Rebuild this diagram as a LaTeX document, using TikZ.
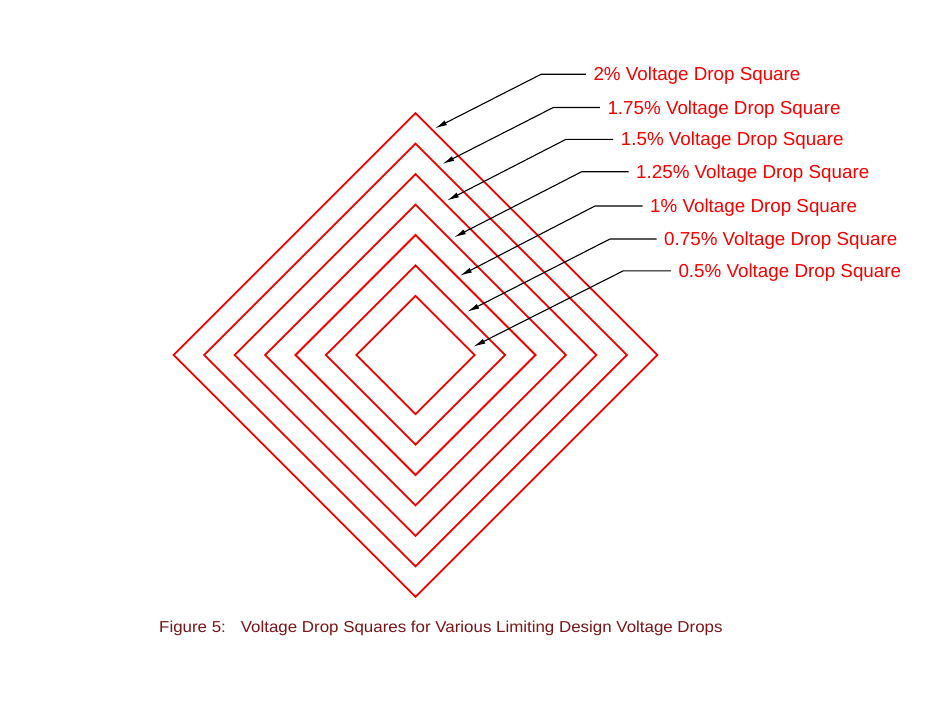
\documentclass[tikz,border=0pt]{standalone}
\usepackage{fontspec}
\setmainfont{Liberation Sans}
\usetikzlibrary{arrows.meta}
\definecolor{sqred}{RGB}{240,0,0}
\definecolor{labred}{RGB}{245,0,0}
\definecolor{capred}{RGB}{122,20,22}
\tikzset{
  sq/.style={draw=sqred, line width=1.8pt, line join=miter},
  lab/.style={anchor=west, text=labred, font=\fontsize{18.8}{20}\selectfont,
    inner xsep=7.5pt, inner ysep=0pt, text height=13.4pt, text depth=0pt},
  leader/.style={draw=black, line width=1.1pt, -{Latex[length=12pt,width=5.2pt]}},
  captext/.style={anchor=west, text=capred, inner sep=0pt,
    font=\fontsize{15.8}{17}\selectfont}
}
\begin{document}
\begin{tikzpicture}[x=1pt,y=-1pt]
\useasboundingbox (0,0) rectangle (938,725);
% diamonds
\coordinate (c) at (415.5,355);
\foreach \r in {241.8,211.35,180.9,150.45,120,89.55,59.1}{
  \draw[sq] (415.5-\r,355) -- (415.5,355-\r) -- (415.5+\r,355) -- (415.5,355+\r) -- cycle;
}
% labels
\node[lab] (l1) at (585.8,74.3) {2\% Voltage Drop Square};
\node[lab] (l2) at (599.8,107.5) {1.75\% Voltage Drop Square};
\node[lab] (l3) at (613.2,139.3) {1.5\% Voltage Drop Square};
\node[lab] (l4) at (628.5,171.7) {1.25\% Voltage Drop Square};
\node[lab] (l5) at (642.5,206) {1\% Voltage Drop Square};
\node[lab] (l6) at (656.5,239) {0.75\% Voltage Drop Square};
\node[lab] (l7) at (670.8,270.8) {0.5\% Voltage Drop Square};
% knees
\coordinate (k1) at (541,74.3);
\coordinate (k2) at (553.3,107.5);
\coordinate (k3) at (566,139.3);
\coordinate (k4) at (581.7,171.7);
\coordinate (k5) at (595,206);
\coordinate (k6) at (610,239);
\coordinate (k7) at (623.3,270.8);
% tips
\coordinate (t1) at (435,128.3);
\coordinate (t2) at (442.3,164);
\coordinate (t3) at (447,200.5);
\coordinate (t4) at (454,237.3);
\coordinate (t5) at (460,275.7);
\coordinate (t6) at (467.3,311.7);
\coordinate (t7) at (473.3,346.7);
\foreach \i in {1,...,7}{
  \draw[leader] (l\i.west) -- (k\i) -- (t\i);
}
% caption
\node[captext] (capt) at (159,628.7) {\scalebox{1.07}[1]{Figure 5:\hspace{14pt}Voltage Drop Squares for Various Limiting Design Voltage Drops}};
\end{tikzpicture}
\end{document}
